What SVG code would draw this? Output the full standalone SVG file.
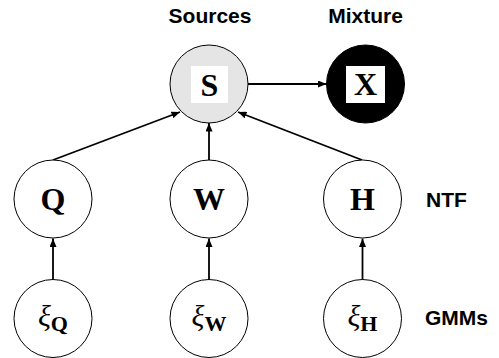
<svg xmlns="http://www.w3.org/2000/svg" width="499" height="358" viewBox="0 0 499 358">
<defs>
<marker id="ah" markerUnits="userSpaceOnUse" markerWidth="9" markerHeight="7" refX="8.5" refY="3.5" orient="auto">
<path d="M0,0 L8.5,3.5 L0,7 z" fill="#000"/>
</marker>
<style>
.node{fill:#fff;stroke:#000;stroke-width:1}
.lab{font-family:"Liberation Sans",Arial,sans-serif;font-weight:bold;font-size:21px;fill:#000}
.mb{font-family:"Liberation Serif","Times New Roman",serif;font-size:32px;font-weight:bold;fill:#000}
.xi{font-family:"Liberation Serif","Times New Roman",serif;font-size:30px;font-style:italic;fill:#000}
.sub{font-family:"Liberation Serif","Times New Roman",serif;font-size:22px;font-weight:bold;font-style:normal}
.edge{stroke:#000;stroke-width:1.8;fill:none;marker-end:url(#ah)}
</style>
</defs>
<g id="labels">
<text class="lab" x="210" y="23" text-anchor="middle">Sources</text>
<text class="lab" x="365.5" y="23" text-anchor="middle">Mixture</text>
<text class="lab" x="426" y="207">NTF</text>
<text class="lab" x="425" y="325">GMMs</text>
</g>
<g id="connectors">
<line class="edge" x1="53" y1="160" x2="180" y2="112"/>
<line class="edge" x1="209" y1="160" x2="209" y2="123"/>
<line class="edge" x1="362" y1="160" x2="238" y2="112"/>
<line class="edge" x1="248" y1="84" x2="326.5" y2="84"/>
<line class="edge" x1="53" y1="280" x2="53" y2="238.5"/>
<line class="edge" x1="209" y1="280" x2="209" y2="238.5"/>
<line class="edge" x1="362.5" y1="280" x2="362.5" y2="238.5"/>
</g>
<g id="node-S">
<circle cx="209" cy="84" r="39" fill="#e5e5e5" stroke="#000" stroke-width="1"/>
<rect x="191" y="66" width="37" height="37" fill="#fff"/>
<text class="mb" x="209.5" y="96" text-anchor="middle">S</text>
</g>
<g id="node-X">
<circle cx="365.5" cy="84" r="39" fill="#000" stroke="#000" stroke-width="1"/>
<rect x="346" y="66" width="39" height="37" fill="#fff"/>
<text class="mb" x="365.5" y="95" text-anchor="middle">X</text>
</g>
<g id="node-Q">
<circle class="node" cx="53" cy="199" r="39"/>
<text class="mb" x="53" y="210" text-anchor="middle">Q</text>
</g>
<g id="node-W">
<circle class="node" cx="209" cy="199" r="39"/>
<text class="mb" x="209" y="210" text-anchor="middle">W</text>
</g>
<g id="node-H">
<circle class="node" cx="362.5" cy="199" r="39"/>
<text class="mb" x="362.5" y="210" text-anchor="middle">H</text>
</g>
<g id="node-xiQ">
<circle class="node" cx="53" cy="318.5" r="39"/>
<text class="xi" x="53" y="326" text-anchor="middle">ξ<tspan class="sub" dy="5">Q</tspan></text>
</g>
<g id="node-xiW">
<circle class="node" cx="209" cy="318.5" r="39"/>
<text class="xi" x="209" y="326" text-anchor="middle">ξ<tspan class="sub" dy="5">W</tspan></text>
</g>
<g id="node-xiH">
<circle class="node" cx="362.5" cy="318.5" r="39"/>
<text class="xi" x="362.5" y="326" text-anchor="middle">ξ<tspan class="sub" dy="5">H</tspan></text>
</g>
</svg>
